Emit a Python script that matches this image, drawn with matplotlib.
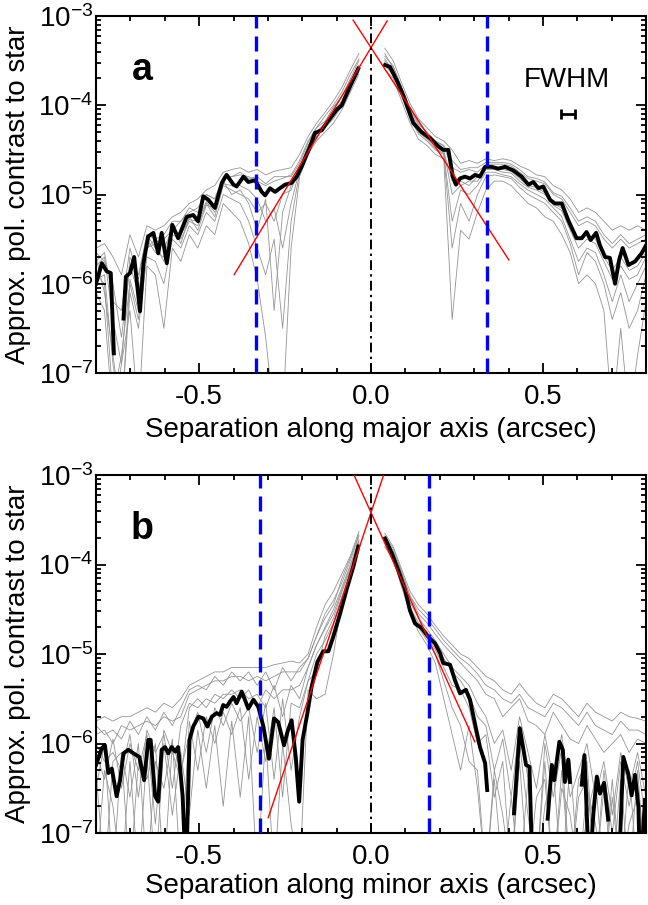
import numpy as np
import matplotlib
matplotlib.use('Agg')
import matplotlib.pyplot as plt
from matplotlib.ticker import LogLocator, MultipleLocator, NullFormatter

plt.rcParams['font.family'] = ['Liberation Sans', 'DejaVu Sans']
plt.rcParams['mathtext.fontset'] = 'custom'
plt.rcParams['mathtext.rm'] = 'Liberation Sans'
plt.rcParams['mathtext.it'] = 'Liberation Sans:italic'
plt.rcParams['mathtext.bf'] = 'Liberation Sans:bold'
plt.rcParams['axes.unicode_minus'] = False

nan = np.nan

# ---- panel a: major axis, mean profile (log10 contrast) ----
xa = [-0.800, -0.783, -0.769, -0.757, -0.748, nan, -0.720, -0.713, -0.701, -0.689,
      -0.672, -0.662, -0.648, -0.633, -0.619, -0.609, -0.594, -0.578, -0.561, -0.536,
      -0.517, -0.503, -0.488, -0.473, -0.454, -0.434, -0.420, -0.400, -0.391, -0.371,
      -0.357, -0.337, -0.318, -0.308, -0.294, -0.279, -0.265, -0.250, -0.231, -0.216,
      -0.202, -0.177, -0.163, -0.143, -0.129, -0.100, -0.085, -0.061, -0.037, nan,
      0.041, 0.055, 0.075, 0.094, 0.109, 0.123, 0.147, 0.172, 0.196, 0.210,
      0.225, 0.238, 0.247, 0.259, 0.273, 0.288, 0.303, 0.317, 0.332, 0.351,
      0.370, 0.390, 0.414, 0.438, 0.458, 0.472, 0.487, 0.501, 0.521, 0.535,
      0.555, 0.574, 0.598, 0.613, 0.627, 0.639, 0.655, 0.666, 0.681, 0.695,
      0.710, 0.722, 0.732, 0.749, 0.768, 0.787, 0.800]
ya = [-6.00, -5.77, -5.86, -5.88, -6.78, nan, -6.39, -5.92, -5.88, -5.70,
      -6.31, -5.77, -5.47, -5.43, -5.66, -5.43, -5.77, -5.34, -5.49, -5.25,
      -5.23, -5.30, -5.02, -5.06, -5.15, -4.87, -4.78, -4.89, -4.91, -4.80,
      -4.86, -4.84, -4.97, -5.01, -4.93, -4.97, -4.93, -4.89, -4.87, -4.80,
      -4.69, -4.46, -4.31, -4.28, -4.20, -4.05, -4.00, -3.79, -3.59, nan,
      -3.55, -3.57, -3.72, -3.89, -4.05, -4.20, -4.30, -4.37, -4.46, -4.50,
      -4.50, -4.80, -4.89, -4.82, -4.80, -4.82, -4.78, -4.80, -4.69, -4.69,
      -4.71, -4.69, -4.73, -4.80, -4.89, -4.86, -4.93, -4.91, -5.06, -5.10,
      -5.10, -5.29, -5.49, -5.49, -5.42, -5.51, -5.43, -5.57, -5.70, -5.71,
      -6.00, -5.73, -5.60, -5.79, -5.75, -5.66, -5.57]

# individual frames (log10), left side then right side
gray_a_left = [
    [-5.6, -5.55, -5.7, -5.9, -5.45, -5.7, -5.35, -5.4, -5.35, -5.25, -5.2, -5.1, -5.05, -4.95, -4.9, -4.75,
     -4.72, -4.7, -4.75, -4.72, -4.78, -4.74, -4.72, -4.7, -4.55, -4.35, -4.2, -4.08, -3.95, -3.8, -3.6, -3.42],
    [-5.8, -5.7, -6.4, -6.9, -5.7, -5.9, -5.45, -5.6, -5.5, -5.4, -5.3, -5.2, -5.15, -5.0, -5.05, -4.8,
     -4.8, -4.78, -4.8, -4.85, -4.9, -4.85, -4.82, -4.78, -4.62, -4.4, -4.25, -4.12, -4.0, -3.85, -3.65, -3.48],
    [-5.9, -6.0, -7.3, -6.8, -6.0, -6.4, -5.6, -5.55, -5.75, -5.45, -5.5, -5.3, -5.35, -5.1, -5.25, -4.9,
     -4.95, -5.0, -5.05, -5.2, -5.1, -5.3, -5.0, -4.95, -4.7, -4.45, -4.3, -4.2, -4.08, -3.95, -3.72, -3.55],
    [-5.7, -6.1, -6.8, -7.5, -6.1, -6.5, -5.7, -5.75, -6.0, -5.5, -5.6, -5.35, -5.45, -5.2, -5.3, -5.0,
     -5.05, -5.1, -5.3, -5.6, -5.9, -5.5, -6.5, -5.3, -4.75, -4.5, -4.35, -4.25, -4.15, -4.0, -3.78, -3.6],
    [-6.1, -6.3, -7.5, -6.9, -6.3, -7.5, -5.8, -5.9, -6.5, -5.6, -5.75, -5.45, -5.6, -5.35, -5.45, -5.1,
     -5.2, -5.3, -5.55, -5.95, -6.6, -7.5, -7.5, -5.6, -4.8, -4.55, -4.4, -4.3, -4.2, -4.05, -3.85, -3.65],
    [-5.75, -5.65, -6.2, -6.3, -5.6, -5.95, -5.45, -5.5, -5.45, -5.3, -5.3, -5.15, -5.2, -5.0, -5.05, -4.82,
     -4.8, -4.75, -4.82, -4.8, -4.88, -4.8, -4.8, -4.8, -4.65, -4.42, -4.25, -4.18, -4.02, -3.9, -3.7, -3.5],
    [-5.95, -5.9, -6.9, -7.5, -5.95, -6.3, -5.6, -5.5, -5.6, -5.4, -5.45, -5.28, -5.3, -5.08, -5.2, -4.88,
     -4.9, -4.9, -4.95, -5.05, -5.3, -5.15, -5.6, -5.1, -4.72, -4.48, -4.3, -4.22, -4.08, -3.97, -3.76, -3.58],
    [-5.65, -5.75, -6.0, -6.6, -5.8, -6.1, -5.5, -5.65, -5.7, -5.35, -5.55, -5.25, -5.4, -5.12, -5.15, -4.85,
     -5.0, -4.95, -5.1, -5.4, -5.05, -6.3, -5.2, -4.9, -4.68, -4.47, -4.33, -4.2, -4.12, -4.02, -3.8, -3.62],
]
gray_a_right = [
    [-3.36, -3.5, -3.75, -3.98, -4.15, -4.25, -4.35, -4.4, -4.5, -4.65, -4.62, -4.65, -4.6, -4.62, -4.6, -4.62,
     -4.68, -4.72, -4.78, -4.8, -4.9, -4.95, -5.05, -5.2, -5.15, -5.2, -5.3, -5.4, -5.35, -5.4, -5.35, -5.4],
    [-3.45, -3.56, -3.8, -4.03, -4.2, -4.3, -4.4, -4.46, -4.7, -4.75, -4.72, -4.75, -4.66, -4.66, -4.66, -4.68,
     -4.75, -4.82, -4.85, -4.88, -5.0, -5.05, -5.2, -5.35, -5.3, -5.35, -5.5, -5.6, -5.5, -5.6, -5.55, -5.5],
    [-3.5, -3.6, -3.85, -4.08, -4.25, -4.33, -4.45, -4.5, -5.0, -4.9, -4.85, -4.85, -4.72, -4.72, -4.75, -4.76,
     -4.85, -4.92, -4.95, -5.0, -5.12, -5.18, -5.4, -5.6, -5.5, -5.55, -5.75, -5.95, -5.8, -5.95, -5.9, -5.7],
    [-3.55, -3.66, -3.9, -4.15, -4.32, -4.4, -4.5, -4.55, -5.6, -5.1, -5.3, -5.0, -4.8, -4.78, -4.8, -4.82,
     -4.92, -5.0, -5.05, -5.1, -5.2, -5.3, -5.55, -5.9, -5.65, -5.75, -6.0, -6.4, -6.1, -6.5, -6.3, -5.9],
    [-3.6, -3.7, -3.95, -4.2, -4.38, -4.45, -4.55, -4.6, -6.4, -5.4, -5.5, -5.2, -4.95, -4.85, -4.85, -4.9,
     -5.0, -5.1, -5.15, -5.25, -5.3, -5.45, -5.65, -6.0, -5.9, -6.0, -6.3, -7.5, -6.5, -7.5, -6.8, -6.2],
    [-3.42, -3.58, -3.8, -4.05, -4.22, -4.3, -4.4, -4.45, -4.62, -4.72, -4.7, -4.7, -4.64, -4.64, -4.64, -4.66,
     -4.72, -4.8, -4.82, -4.86, -4.98, -5.02, -5.15, -5.3, -5.25, -5.3, -5.45, -5.55, -5.45, -5.55, -5.5, -5.45],
    [-3.48, -3.62, -3.86, -4.1, -4.28, -4.36, -4.46, -4.52, -4.85, -4.85, -4.9, -4.8, -4.7, -4.7, -4.72, -4.74,
     -4.82, -4.9, -4.92, -4.98, -5.1, -5.15, -5.35, -5.5, -5.45, -5.5, -5.7, -5.85, -5.7, -5.85, -5.8, -5.65],
    [-3.52, -3.66, -3.88, -4.12, -4.3, -4.38, -4.48, -4.54, -5.3, -4.95, -5.0, -4.9, -4.75, -4.75, -4.78, -4.8,
     -4.88, -4.95, -5.0, -5.05, -5.15, -5.25, -5.5, -5.75, -5.6, -5.65, -5.9, -6.2, -5.9, -6.2, -6.0, -5.8],
]

# ---- panel b: minor axis ----
xb = [-0.800, -0.783, -0.774, -0.764, -0.754, -0.740, -0.730, -0.720, -0.706, -0.691,
      -0.674, -0.660, -0.648, -0.641, -0.628, -0.619, -0.609, -0.599, -0.590, -0.580,
      -0.570, -0.561, -0.548, -0.538, -0.528, -0.517, -0.502, -0.488, -0.476, -0.463,
      -0.449, -0.439, -0.430, -0.420, -0.410, -0.400, -0.391, -0.376, -0.357, -0.342,
      -0.328, -0.313, -0.297, -0.282, -0.270, -0.253, -0.243, -0.231, -0.219, -0.209,
      -0.199, -0.185, -0.173, -0.156, -0.139, -0.124, -0.110, -0.090, -0.071, -0.051,
      -0.037, nan,
      0.041, 0.060, 0.079, 0.099, 0.113, 0.128, 0.147, 0.167, 0.186, 0.201,
      0.210, 0.230, 0.244, 0.259, 0.276, 0.288, 0.303, 0.317, 0.332, 0.338, nan,
      0.416, 0.433, 0.451, 0.461, 0.470, nan,
      0.514, 0.526, 0.533, 0.548, 0.558, 0.564, 0.574, 0.579, nan,
      0.613, 0.621, 0.635, 0.647, 0.657, 0.666, 0.678, 0.690, nan,
      0.720, 0.734, 0.749, 0.758, 0.768, 0.778, 0.783, 0.797]
yb = [-6.24, -6.05, -6.02, -6.33, -6.28, -6.59, -6.41, -6.11, -6.07, -6.11,
      -6.15, -6.41, -5.96, -5.96, -6.59, -6.65, -6.07, -6.04, -6.11, -6.04,
      -6.09, -6.04, -6.59, -7.50, -5.96, -5.81, -5.70, -5.72, -5.81, -5.70,
      -5.66, -5.68, -5.57, -5.59, -5.53, -5.48, -5.55, -5.42, -5.61, -5.51,
      -5.59, -5.81, -6.17, -5.72, -5.76, -6.02, -5.87, -5.74, -6.15, -6.65,
      -5.96, -5.66, -5.37, -5.09, -4.97, -4.97, -4.81, -4.55, -4.28, -4.02,
      -3.80, nan,
      -3.71, -3.87, -4.06, -4.28, -4.51, -4.66, -4.71, -4.81, -4.88, -4.99,
      -5.10, -5.12, -5.29, -5.44, -5.40, -5.51, -5.79, -6.04, -6.22, -6.52, nan,
      -6.78, -5.83, -6.24, -6.26, -7.50, nan,
      -6.84, -6.24, -6.41, -5.98, -6.07, -6.43, -6.18, -6.43, nan,
      -6.46, -6.13, -7.50, -6.78, -6.37, -6.56, -6.44, -6.85, nan,
      -7.50, -6.15, -6.35, -6.58, -6.35, -6.71, -7.50, -6.63]

gray_b_left = [
    [-5.75, -5.7, -5.75, -5.7, -5.7, -5.65, -5.6, -5.65, -5.55, -5.6, -5.5, -5.35, -5.3, -5.25, -5.2, -5.2,
     -5.15, -5.15, -5.15, -5.15, -5.15, -5.12, -5.1, -5.08, -5.1, -5.0, -4.7, -4.45, -4.3, -4.1, -3.9, -3.63],
    [-5.9, -5.85, -6.0, -5.8, -5.85, -5.8, -5.75, -5.8, -5.7, -5.75, -5.7, -5.45, -5.4, -5.35, -5.3, -5.3,
     -5.25, -5.25, -5.3, -5.25, -5.3, -5.25, -5.2, -5.2, -5.2, -5.05, -4.8, -4.55, -4.4, -4.2, -3.95, -3.68],
    [-6.1, -6.4, -5.95, -6.5, -6.0, -6.3, -5.9, -6.9, -5.85, -6.1, -6.4, -5.6, -5.5, -5.6, -5.45, -5.5,
     -5.4, -5.5, -5.4, -5.6, -5.4, -5.5, -5.4, -5.4, -5.35, -5.15, -4.9, -4.7, -4.5, -4.25, -4.0, -3.72],
    [-6.5, -6.0, -7.5, -6.1, -6.6, -6.0, -7.5, -6.2, -6.5, -5.95, -7.5, -5.75, -6.3, -5.7, -6.0, -5.65,
     -5.9, -5.6, -6.4, -5.7, -6.2, -5.6, -6.6, -5.55, -5.6, -5.3, -5.2, -4.8, -4.6, -4.3, -4.05, -3.76],
    [-7.5, -6.3, -6.7, -7.5, -6.2, -7.5, -6.1, -7.5, -6.0, -6.8, -6.1, -6.8, -5.85, -6.5, -5.8, -6.7,
     -5.75, -6.6, -5.7, -7.5, -5.9, -7.5, -6.0, -6.9, -7.5, -5.4, -5.5, -5.45, -5.0, -4.4, -4.1, -3.8],
    [-5.8, -5.9, -5.85, -5.95, -5.75, -5.9, -5.7, -5.85, -5.65, -5.8, -5.6, -5.4, -5.35, -5.4, -5.25, -5.35,
     -5.2, -5.3, -5.2, -5.35, -5.2, -5.4, -5.15, -5.3, -5.15, -5.05, -4.8, -4.6, -4.45, -4.15, -3.92, -3.66],
    [-6.0, -6.2, -6.1, -6.3, -5.9, -6.6, -5.85, -6.1, -5.9, -6.5, -5.8, -5.55, -5.6, -5.5, -5.55, -5.45,
     -5.45, -5.4, -5.5, -5.45, -5.6, -5.35, -5.7, -5.35, -5.5, -5.15, -4.9, -4.72, -4.55, -4.28, -4.02, -3.74],
    [-6.3, -7.5, -6.2, -6.1, -7.5, -6.2, -6.4, -6.0, -7.5, -6.0, -6.3, -5.9, -5.65, -6.1, -5.6, -5.8,
     -5.55, -5.75, -5.6, -6.1, -5.55, -6.4, -5.5, -6.3, -5.7, -5.3, -5.0, -4.85, -4.65, -4.35, -4.08, -3.78],
]
gray_b_right = [
    [-3.65, -3.8, -4.05, -4.3, -4.45, -4.55, -4.68, -4.8, -4.9, -5.0, -5.05, -5.15, -5.25, -5.3, -5.4, -5.45,
     -5.33, -5.45, -5.55, -5.6, -5.45, -5.5, -5.6, -5.7, -5.55, -5.65, -5.7, -5.75, -5.65, -5.7, -5.72, -5.75],
    [-3.7, -3.85, -4.1, -4.35, -4.55, -4.65, -4.78, -4.9, -5.0, -5.1, -5.2, -5.3, -5.45, -5.5, -5.7, -5.6,
     -5.5, -5.75, -5.8, -5.9, -5.65, -5.8, -5.95, -6.0, -5.8, -5.95, -6.1, -6.0, -5.9, -6.1, -5.95, -6.0],
    [-3.72, -3.88, -4.15, -4.42, -4.6, -4.72, -4.85, -5.0, -5.15, -5.25, -5.35, -5.55, -5.7, -6.0, -5.85, -6.3,
     -5.7, -6.1, -6.5, -5.9, -6.4, -5.9, -6.6, -6.3, -6.0, -6.6, -6.2, -6.8, -6.1, -6.5, -6.1, -6.6],
    [-3.75, -3.92, -4.2, -4.5, -4.68, -4.8, -4.95, -5.15, -5.35, -5.4, -5.6, -6.0, -5.9, -6.6, -6.2, -7.5,
     -6.0, -6.8, -7.5, -6.2, -7.5, -6.3, -7.5, -6.6, -6.4, -7.5, -6.5, -7.5, -6.4, -7.5, -6.3, -7.5],
    [-3.8, -3.95, -4.25, -4.55, -4.75, -4.9, -5.1, -5.5, -5.9, -6.3, -5.8, -6.5, -7.5, -6.4, -7.5, -6.6,
     -7.5, -6.4, -7.5, -6.7, -6.3, -7.5, -6.2, -7.5, -6.8, -6.4, -7.5, -6.6, -7.5, -6.3, -7.5, -6.8],
    [-3.68, -3.82, -4.08, -4.35, -4.5, -4.6, -4.72, -4.85, -4.95, -5.05, -5.12, -5.22, -5.35, -5.4, -5.5, -5.55,
     -5.45, -5.6, -5.65, -5.7, -5.55, -5.6, -5.7, -5.8, -5.65, -5.8, -5.85, -5.9, -5.75, -5.85, -5.85, -5.9],
    [-3.73, -3.9, -4.18, -4.48, -4.65, -4.75, -4.9, -5.05, -5.2, -5.3, -5.45, -5.7, -5.8, -6.3, -5.95, -6.6,
     -5.8, -6.4, -7.5, -6.0, -6.6, -6.05, -7.5, -6.4, -6.2, -7.5, -6.3, -7.0, -6.2, -6.7, -6.2, -6.9],
    [-3.76, -3.94, -4.22, -4.52, -4.7, -4.85, -5.0, -5.3, -5.6, -5.8, -6.2, -6.3, -7.5, -6.3, -6.8, -7.5,
     -6.2, -7.5, -6.6, -6.4, -7.5, -6.5, -6.8, -7.5, -6.5, -6.9, -7.5, -6.4, -7.5, -6.9, -6.6, -7.5],
]

# exponential fits: (log10 value at x=0, slope left, slope right, x range left, x range right)
fit_a = (-3.355, 6.39, -5.93, (-0.398, 0.047), (-0.052, 0.401))
fit_b = (-3.42, 11.4, -8.48, (-0.299, 0.040), (-0.050, 0.302))

# region boundaries (blue dashed)
bounds_a = (-0.336, 0.336)
bounds_b = (-0.323, 0.169)

fwhm = 0.04
fwhm_pos = (0.573, 7.9e-5)

gx_left = np.linspace(-0.80, -0.035, 32)
gx_right = np.linspace(0.04, 0.80, 32)


def panel(ax, x, y, gl, gr, fit, bounds, letter, xlabel):
    gx = np.concatenate([gx_left, [nan], gx_right])
    for l, r in zip(gl, gr):
        gy = np.concatenate([l, [nan], r])
        ax.plot(gx, 10.0 ** gy, color='0.58', lw=0.6, zorder=1)
    ax.plot(x, 10.0 ** np.array(y), color='black', lw=2.8, zorder=3)

    p0, sl, sr, rl, rr = fit
    xl = np.array(rl)
    xr = np.array(rr)
    ax.plot(xl, 10.0 ** (p0 + sl * xl), color='red', lw=1.0, zorder=4)
    ax.plot(xr, 10.0 ** (p0 + sr * xr), color='red', lw=1.0, zorder=4)

    for b in bounds:
        ax.axvline(b, color='#0000ff', lw=2.4, dashes=(4.5, 2.4), zorder=5)
    ax.axvline(0.0, color='black', lw=1.4, dashes=(5, 2.2, 1.2, 2.2), zorder=5)

    ax.set_yscale('log')
    ax.set_xlim(-0.8, 0.8)
    ax.set_ylim(1e-7, 1e-3)
    ax.xaxis.set_major_locator(MultipleLocator(0.5))
    ax.xaxis.set_minor_locator(MultipleLocator(0.1))
    ax.xaxis.set_major_formatter(plt.FuncFormatter(lambda v, p: '%.1f' % v))
    ax.yaxis.set_major_locator(LogLocator(base=10, numticks=10))
    ax.yaxis.set_minor_locator(LogLocator(base=10, subs=np.arange(2, 10), numticks=10))
    ax.yaxis.set_minor_formatter(NullFormatter())
    ax.tick_params(which='both', direction='in', top=True, right=True, width=1.3,
                   labelsize=20)
    ax.tick_params(which='major', length=7)
    ax.tick_params(which='minor', length=3.5)
    ax.tick_params(axis='x', pad=8)
    ax.tick_params(axis='y', pad=2)
    for s in ax.spines.values():
        s.set_linewidth(1.5)

    ax.set_xlabel(xlabel, fontsize=20)
    ax.set_ylabel('Approx. pol. contrast to star', fontsize=20)
    ax.yaxis.set_label_coords(-0.118, 0.5)
    ax.text(0.084, 0.85, letter, transform=ax.transAxes, fontsize=27,
            fontweight='bold', ha='center', va='center')


fig = plt.figure(figsize=(6.48, 9.05), dpi=100)
ax1 = fig.add_axes([96 / 648, 1 - 373 / 905, 550 / 648, 357 / 905])
ax2 = fig.add_axes([96 / 648, 1 - 833 / 905, 550 / 648, 358 / 905])

panel(ax1, xa, ya, gray_a_left, gray_a_right, fit_a, bounds_a, 'a',
      'Separation along major axis (arcsec)')
panel(ax2, xb, yb, gray_b_left, gray_b_right, fit_b, bounds_b, 'b',
      'Separation along minor axis (arcsec)')
ax1.xaxis.set_label_coords(0.5, -0.122)
ax2.xaxis.set_label_coords(0.5, -0.112)

# FWHM marker
ax1.text(0.570, 1.92e-4, 'FWHM', fontsize=20, ha='center', va='center')
ax1.errorbar(fwhm_pos[0], fwhm_pos[1], xerr=fwhm / 2, color='black', lw=2,
             capsize=3.5, capthick=2)

fig.savefig('out.png', dpi=100)
